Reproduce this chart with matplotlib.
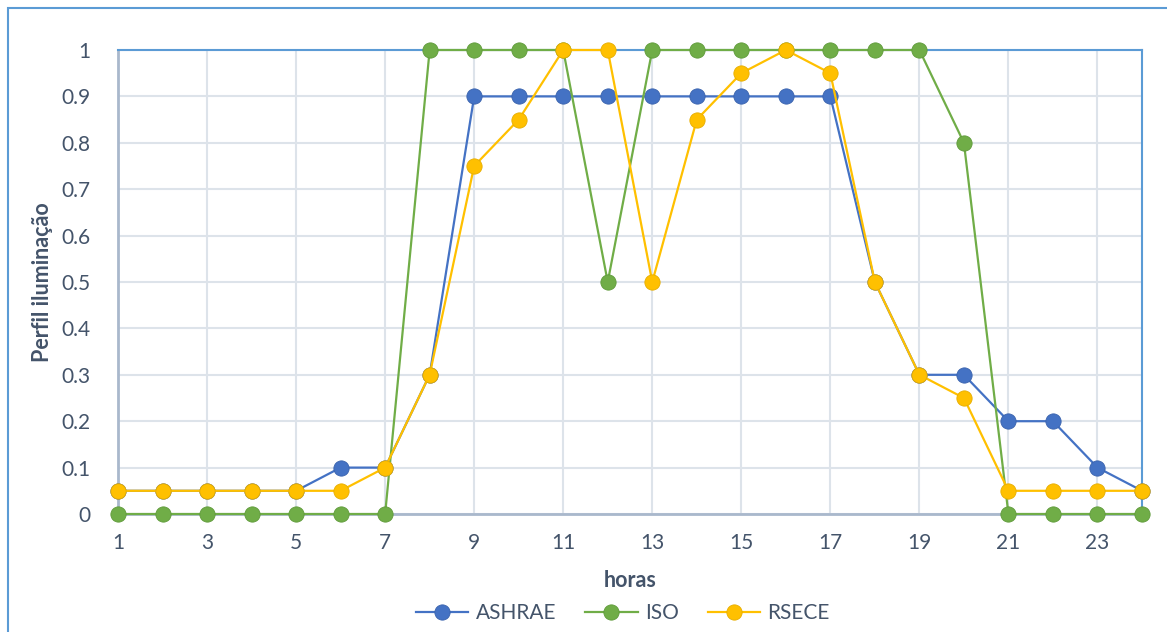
import matplotlib.pyplot as plt
from matplotlib.patches import Rectangle

hours = list(range(1, 25))
ashrae = [0.05, 0.05, 0.05, 0.05, 0.05, 0.1, 0.1, 0.3, 0.9, 0.9, 0.9, 0.9,
          0.9, 0.9, 0.9, 0.9, 0.9, 0.5, 0.3, 0.3, 0.2, 0.2, 0.1, 0.05]
iso = [0, 0, 0, 0, 0, 0, 0, 1, 1, 1, 1, 0.5,
       1, 1, 1, 1, 1, 1, 1, 0.8, 0, 0, 0, 0]
rsece = [0.05, 0.05, 0.05, 0.05, 0.05, 0.05, 0.1, 0.3, 0.75, 0.85, 1, 1,
         0.5, 0.85, 0.95, 1, 0.95, 0.5, 0.3, 0.25, 0.05, 0.05, 0.05, 0.05]

series = [('ASHRAE', ashrae, '#4472C4', '#3a63ad'),
          ('ISO', iso, '#70AD47', '#5f9a3a'),
          ('RSECE', rsece, '#FFC000', '#e6ad00')]

txt = '#44546A'
plt.rcParams['font.family'] = ['Lato', 'DejaVu Sans']

fig = plt.figure(figsize=(11.67, 6.32), dpi=100)
ax = fig.add_axes([118/1167, 1 - 514/632, (1142-118)/1167, (514-50)/632])

# chart border (left and top edges only show)
fig.patches.append(Rectangle((8/1167, -0.1), 1.2, 1 - 8/632 + 0.1, transform=fig.transFigure,
                             fill=False, edgecolor='#5B9BD5', lw=1.5, zorder=0))

for name, vals, col, edge in series:
    ax.plot(hours, vals, '-o', color=col, lw=1.6, ms=11, mfc=col, mec=edge, mew=0.6,
            label=name, clip_on=False, zorder=3)

ax.set_xlim(1, 24)
ax.set_ylim(0, 1)
ax.set_xticks(range(1, 25, 2))
ax.set_yticks([i / 10 for i in range(11)])
ax.set_yticklabels(['0', '0.1', '0.2', '0.3', '0.4', '0.5', '0.6', '0.7', '0.8', '0.9', '1'])
ax.grid(True, color='#DDE3EA', lw=1.5, zorder=0)
ax.set_axisbelow(True)
ax.tick_params(length=0, labelsize=15, colors=txt)
ax.tick_params(axis='x', pad=14)
ax.tick_params(axis='y', pad=20)

ax.spines['left'].set_color('#A9B8CC')
ax.spines['bottom'].set_color('#A9B8CC')
ax.spines['left'].set_linewidth(2)
ax.spines['bottom'].set_linewidth(2)
ax.spines['top'].set_color('#5B9BD5')
ax.spines['right'].set_color('#5B9BD5')
ax.spines['top'].set_linewidth(1.5)
ax.spines['right'].set_linewidth(1.5)

ax.set_xlabel('horas', fontsize=15.5, fontweight='bold', color=txt, labelpad=12)
ax.set_ylabel('Perfil iluminação', fontsize=15.5, fontweight='bold', color=txt, labelpad=6)

leg = fig.legend(loc='center', bbox_to_anchor=(623/1167, 1 - 613/632), ncol=3, frameon=False,
                 fontsize=15, handlelength=2.5, columnspacing=1.4, handletextpad=0.35)
for t in leg.get_texts():
    t.set_color(txt)

fig.savefig('out.png', dpi=100)
